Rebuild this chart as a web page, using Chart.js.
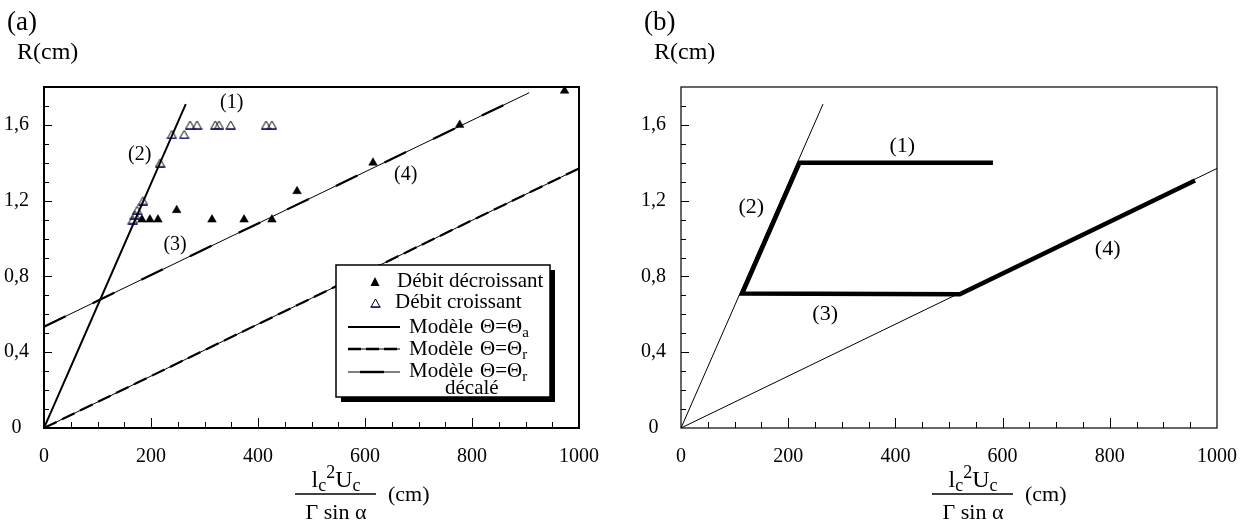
<!DOCTYPE html>
<html>
<head>
<meta charset="utf-8">
<script src="https://cdn.jsdelivr.net/npm/chart.js@4.4.1/dist/chart.umd.min.js"></script>
<style>
html, body { margin: 0; padding: 0; background: #fff; }
#chartA { position: absolute; left: 0; top: 0; }
#chartB { position: absolute; left: 637px; top: 0; }
</style>
</head>
<body>
<canvas id="chartA" width="637" height="529"></canvas>
<canvas id="chartB" width="622" height="529"></canvas>
<script>
// axes
const xTickVals = [0, 200, 400, 600, 800, 1000];
const yTickVals = [0, 0.4, 0.8, 1.2, 1.6];
const yTickText = ['0', '0,4', '0,8', '1,2', '1,6'];

// (a) measured points
const decX = [973, 777, 615, 473, 426, 374, 314, 248, 213, 198, 183];
const decY = [1.78, 1.6, 1.4, 1.25, 1.1, 1.1, 1.1, 1.15, 1.1, 1.1, 1.1];
const croX = [273, 286, 320, 327, 349, 415, 426, 239, 262, 217, 185, 174, 170, 166];
const croY = [1.6, 1.6, 1.6, 1.6, 1.6, 1.6, 1.6, 1.55, 1.55, 1.4, 1.2, 1.15, 1.125, 1.1];

// model lines
const thetaAX = [0, 265];
const thetaAY = [0, 1.71];
const thetaRX = [0, 1000];
const thetaRY = [0, 1.37];
const shiftX = [0, 907];
const shiftY = [0.535, 1.77];

// (b) hysteresis path
const pathX = [582, 221, 114, 520, 959];
const pathY = [1.40, 1.40, 0.71, 0.706, 1.306];

// curve labels
const labels = ['(1)', '(2)', '(3)', '(4)'];
const labAX = [351, 179, 245, 676];
const labAY = [1.716, 1.441, 0.966, 1.336];
const labBX = [413, 131, 269, 796];
const labBY = [1.49, 1.165, 0.60, 0.944];

const SERIF = '"Liberation Serif", "Times New Roman", serif';

function pts(xs, ys) {
  return xs.map((x, i) => ({ x: x, y: ys[i] }));
}

// hollow triangle with blue base, as in the original
function hollowTri() {
  const c = document.createElement('canvas');
  c.width = 11; c.height = 10;
  const g = c.getContext('2d');
  g.strokeStyle = '#000';
  g.lineWidth = 1;
  g.beginPath();
  g.moveTo(5.5, 1); g.lineTo(1, 9); g.lineTo(10, 9); g.closePath();
  g.stroke();
  g.strokeStyle = '#1c1c90';
  g.lineWidth = 1.5;
  g.beginPath(); g.moveTo(0.5, 9.2); g.lineTo(10.5, 9.2); g.stroke();
  return c;
}
const hollow = hollowTri();

function rich(ctx, parts, x, y, align) {
  let w = 0;
  parts.forEach(p => { ctx.font = p[1] + 'px ' + SERIF; w += ctx.measureText(p[0]).width; });
  let cx = align === 'center' ? x - w / 2 : x;
  parts.forEach(p => {
    ctx.font = p[1] + 'px ' + SERIF;
    ctx.fillText(p[0], cx, y + p[2]);
    cx += ctx.measureText(p[0]).width;
  });
}

function frame(opt) {
  return {
    id: 'frame',
    afterDraw(chart) {
      const ctx = chart.ctx, a = chart.chartArea;
      const xs = chart.scales.x, ys = chart.scales.y;
      ctx.save();
      ctx.strokeStyle = '#000';
      ctx.fillStyle = '#000';
      ctx.lineWidth = 1;
      // inward ticks
      for (let v = 50; v < 1000; v += 50) {
        const px = Math.round(xs.getPixelForValue(v)) + 0.5;
        const len = v % 200 === 0 ? 10 : 6;
        ctx.beginPath(); ctx.moveTo(px, a.bottom); ctx.lineTo(px, a.bottom - len); ctx.stroke();
      }
      for (let i = 1; i < 18; i++) {
        const py = Math.round(ys.getPixelForValue(i / 10)) + 0.5;
        const len = i % 4 === 0 ? 8 : 5;
        ctx.beginPath(); ctx.moveTo(a.left, py); ctx.lineTo(a.left + len, py); ctx.stroke();
      }
      ctx.lineWidth = opt.border;
      ctx.strokeRect(a.left, a.top, a.right - a.left, a.bottom - a.top);

      // curve labels
      ctx.textAlign = 'center';
      ctx.textBaseline = 'middle';
      ctx.font = opt.labSize + 'px ' + SERIF;
      opt.labX.forEach((v, i) => {
        ctx.fillText(labels[i], xs.getPixelForValue(v), ys.getPixelForValue(opt.labY[i]));
      });

      // panel letter and y title
      ctx.textBaseline = 'alphabetic';
      ctx.textAlign = 'left';
      ctx.font = '27px ' + SERIF;
      ctx.fillText(opt.panel, 7, 30);
      ctx.font = '24px ' + SERIF;
      ctx.fillText('R(cm)', 17, 59);

      // x title as a fraction
      const cx = 336;
      rich(ctx, [['l', 24, 0], ['c', 18, 4], ['2', 18, -9], ['U', 24, 0], ['c', 18, 4]], cx, 487, 'center');
      ctx.lineWidth = 1.6;
      ctx.beginPath(); ctx.moveTo(295, 494); ctx.lineTo(376, 494); ctx.stroke();
      ctx.textAlign = 'center';
      ctx.font = '22px ' + SERIF;
      ctx.fillText('\u0393 sin \u03b1', cx, 519);
      ctx.textAlign = 'left';
      ctx.fillText('(cm)', 388, 501);

      if (opt.legend) drawLegend(ctx);
      ctx.restore();
    }
  };
}

function drawLegend(ctx) {
  const L = 336, T = 265, R = 550, B = 397;
  ctx.fillStyle = '#000';
  ctx.fillRect(L + 5, T + 5, R - L, B - T);
  ctx.fillStyle = '#fff';
  ctx.fillRect(L, T, R - L, B - T);
  ctx.lineWidth = 1.5;
  ctx.strokeStyle = '#000';
  ctx.strokeRect(L, T, R - L, B - T);
  ctx.fillStyle = '#000';
  // markers
  ctx.beginPath();
  ctx.moveTo(375, 277); ctx.lineTo(370.5, 286); ctx.lineTo(379.5, 286); ctx.closePath(); ctx.fill();
  ctx.drawImage(hollow, 370, 298);
  ctx.lineWidth = 2;
  ctx.beginPath(); ctx.moveTo(348, 327); ctx.lineTo(400, 327); ctx.stroke();
  ctx.lineWidth = 1;
  ctx.beginPath(); ctx.moveTo(348, 349); ctx.lineTo(400, 349); ctx.stroke();
  ctx.lineWidth = 2.4;
  ctx.setLineDash([13, 5]);
  ctx.beginPath(); ctx.moveTo(348, 349); ctx.lineTo(400, 349); ctx.stroke();
  ctx.setLineDash([]);
  ctx.lineWidth = 1;
  ctx.beginPath(); ctx.moveTo(348, 372); ctx.lineTo(400, 372); ctx.stroke();
  ctx.lineWidth = 2.4;
  ctx.beginPath(); ctx.moveTo(360, 372); ctx.lineTo(384, 372); ctx.stroke();
  // texts
  ctx.textAlign = 'left';
  ctx.font = '21px ' + SERIF;
  ctx.fillText('Débit décroissant', 397, 287);
  ctx.fillText('Débit croissant', 395, 308);
  const rows = [[333, 'a'], [355, 'r'], [377, 'r']];
  rows.forEach(r => {
    ctx.font = '21px ' + SERIF;
    ctx.fillText('Modèle', 409, r[0]);
    rich(ctx, [['\u0398=\u0398', 21, 0], [r[1], 15, 4]], 480, r[0], 'left');
  });
  ctx.font = '21px ' + SERIF;
  ctx.fillText('décalé', 445, 394);
}

function axes() {
  return {
    x: {
      type: 'linear', min: 0, max: 1000,
      grid: { display: false, drawTicks: false },
      border: { display: false },
      afterBuildTicks: s => { s.ticks = xTickVals.map(v => ({ value: v })); },
      afterFit: s => { s.height = 101; },
      ticks: { font: { family: SERIF, size: 20 }, color: '#000', padding: 17, maxRotation: 0,
               callback: v => String(v) }
    },
    y: {
      type: 'linear', min: 0, max: 1.8,
      grid: { display: false, drawTicks: false },
      border: { display: false },
      afterBuildTicks: s => { s.ticks = yTickVals.map(v => ({ value: v })); },
      afterFit: s => { s.width = 44; },
      ticks: { font: { family: SERIF, size: 20 }, color: '#000', padding: 15, crossAlign: 'center',
               callback: (v, i) => yTickText[i] }
    }
  };
}

const common = {
  responsive: false,
  animation: false,
  events: [],
  plugins: { legend: { display: false }, tooltip: { enabled: false } }
};

new Chart(document.getElementById('chartA'), {
  type: 'scatter',
  data: {
    datasets: [
      { data: pts(thetaAX, thetaAY), showLine: true, borderColor: '#000', borderWidth: 2, pointRadius: 0 },
      { data: pts(thetaRX, thetaRY), showLine: true, borderColor: '#000', borderWidth: 1, pointRadius: 0 },
      { data: pts(thetaRX, thetaRY), showLine: true, borderColor: '#000', borderWidth: 2.2, borderDash: [14, 6], pointRadius: 0 },
      { data: pts(shiftX, shiftY), showLine: true, borderColor: '#000', borderWidth: 1, pointRadius: 0 },
      { data: pts(shiftX, shiftY), showLine: true, borderColor: '#000', borderWidth: 2.2, borderDash: [24, 30], pointRadius: 0 },
      { data: pts(croX, croY), pointStyle: hollow, pointRadius: 5, clip: 8 },
      { data: pts(decX, decY), pointStyle: 'triangle', pointRadius: 5, backgroundColor: '#000', borderColor: '#000', borderWidth: 0.5, clip: 8 }
    ]
  },
  options: Object.assign({}, common, {
    layout: { padding: { left: 0, top: 87, right: 58, bottom: 0 } },
    scales: axes()
  }),
  plugins: [frame({ border: 2, panel: '(a)', labX: labAX, labY: labAY, labSize: 20, legend: true })]
});

new Chart(document.getElementById('chartB'), {
  type: 'scatter',
  data: {
    datasets: [
      { data: pts(thetaAX, thetaAY), showLine: true, borderColor: '#000', borderWidth: 1, pointRadius: 0 },
      { data: pts(thetaRX, thetaRY), showLine: true, borderColor: '#000', borderWidth: 1, pointRadius: 0 },
      { data: pts(pathX, pathY), showLine: true, borderColor: '#000', borderWidth: 4.5, pointRadius: 0, borderJoinStyle: 'miter' }
    ]
  },
  options: Object.assign({}, common, {
    layout: { padding: { left: 0, top: 87, right: 42, bottom: 0 } },
    scales: axes()
  }),
  plugins: [frame({ border: 1.2, panel: '(b)', labX: labBX, labY: labBY, labSize: 22, legend: false })]
});
</script>
</body>
</html>
